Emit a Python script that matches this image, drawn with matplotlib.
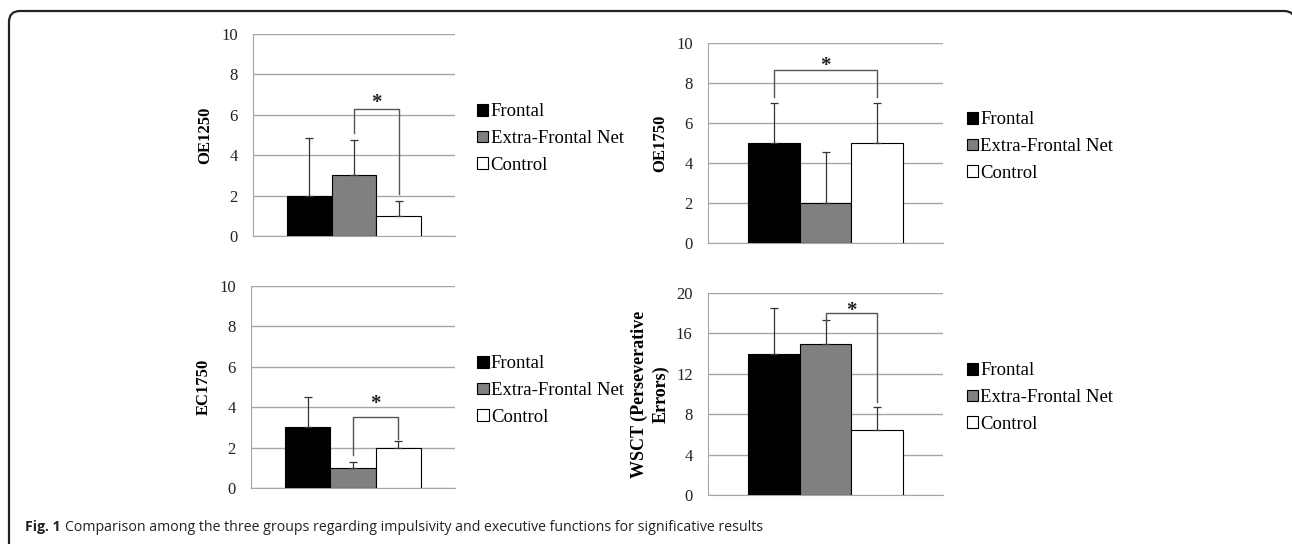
import matplotlib

matplotlib.use("Agg")

import matplotlib.pyplot as plt
from matplotlib.patches import Patch, PathPatch
from matplotlib.path import Path

groups = ["Frontal", "Extra-Frontal Net", "Control"]
bar_colors = ["#000000", "#808080", "#ffffff"]

panel_labels = ["OE1250", "OE1750", "EC1750", "WSCT (Perseverative\nErrors)"]
panel_means = [
    [2.0, 3.0, 1.0],
    [5.0, 2.0, 5.0],
    [3.0, 1.0, 2.0],
    [14.0, 15.0, 6.4],
]
panel_errors = [
    [2.85, 1.75, 0.75],
    [2.0, 2.55, 2.0],
    [1.5, 0.3, 0.35],
    [4.5, 2.3, 2.3],
]
panel_ymax = [10, 10, 10, 20]
panel_ystep = [2, 2, 2, 4]
# bracket: (left bar, right bar, left leg bottom, right leg bottom, top, star y)
panel_brackets = [
    (1, 2, 5.1, 2.1, 6.3, 6.8),
    (0, 2, 7.3, 7.3, 8.65, 9.05),
    (1, 2, 1.65, 2.45, 3.5, 4.35),
    (1, 2, 17.1, 9.2, 18.0, 18.6),
]

caption_bold = "Fig. 1"
caption_text = (
    "Comparison among the three groups regarding impulsivity and "
    "executive functions for significative results"
)

# axes boxes in pixels: left, top, right, bottom
W, H = 1292, 544
axes_px = [
    (253, 34, 455, 236),
    (708, 43, 943, 243),
    (251, 286, 455, 488),
    (708, 293, 943, 495),
]
label_x = [-0.198, -0.17, -0.19, -0.165]
label_size = [12, 12, 12, 13]
legend_x = [1.11, 1.10, 1.11, 1.10]

plt.rcParams["font.family"] = ["Liberation Serif", "DejaVu Serif"]

fig = plt.figure(figsize=(W / 100, H / 100), dpi=100)


def fpt(px, py):
    return (px / W, 1 - py / H)


# rounded frame, only the top and left sides fall inside the picture
r = 11
left, top, right = 9, 11, 1295
verts = [
    fpt(left, H + 20),
    fpt(left, top + r),
    fpt(left, top),
    fpt(left + r, top),
    fpt(right - r, top),
    fpt(right, top),
    fpt(right, top + r),
    fpt(right, H + 20),
]
codes = [
    Path.MOVETO,
    Path.LINETO,
    Path.CURVE3,
    Path.CURVE3,
    Path.LINETO,
    Path.CURVE3,
    Path.CURVE3,
    Path.LINETO,
]
frame = PathPatch(
    Path(verts, codes),
    transform=fig.transFigure,
    fill=False,
    edgecolor="#222222",
    linewidth=1.6,
)
fig.patches.append(frame)

for i in range(4):
    l, t, rr, b = axes_px[i]
    ax = fig.add_axes([l / W, (H - b) / H, (rr - l) / W, (b - t) / H])
    x = list(range(len(groups)))
    ax.bar(
        x,
        panel_means[i],
        width=1.0,
        color=bar_colors,
        edgecolor="#000000",
        linewidth=0.8,
        zorder=3,
    )
    ax.errorbar(
        x,
        panel_means[i],
        yerr=[[0, 0, 0], panel_errors[i]],
        fmt="none",
        ecolor="#333333",
        elinewidth=0.9,
        capsize=3,
        capthick=0.9,
        zorder=4,
    )

    lb, rb, lbot, rbot, btop, star_y = panel_brackets[i]
    ax.plot(
        [x[lb], x[lb], x[rb], x[rb]],
        [lbot, btop, btop, rbot],
        color="#555555",
        linewidth=1.0,
        solid_joinstyle="round",
        zorder=5,
    )
    ax.annotate(
        "*",
        xy=((x[lb] + x[rb]) / 2, star_y),
        xytext=(0, -3),
        textcoords="offset points",
        ha="center",
        va="center",
        fontsize=15,
        fontweight="bold",
        color="#222222",
    )

    ax.set_xlim(-1.26, 3.26)
    ax.set_ylim(0, panel_ymax[i])
    ax.set_yticks(range(0, panel_ymax[i] + 1, panel_ystep[i]))
    ax.set_xticks([])
    ax.yaxis.grid(True, color="#a6a6a6", linewidth=1.0, zorder=0)
    ax.set_axisbelow(True)
    for side in ["top", "right"]:
        ax.spines[side].set_visible(False)
    ax.spines["left"].set_color("#a6a6a6")
    ax.spines["bottom"].set_color("#a6a6a6")
    ax.tick_params(axis="y", length=0, pad=11, labelsize=12, labelcolor="#222222")

    ax.set_ylabel(
        panel_labels[i], fontsize=label_size[i], fontweight="bold", linespacing=1.3
    )
    ax.yaxis.set_label_coords(label_x[i], 0.5)

    handles = [
        Patch(facecolor=c, edgecolor="#000000", linewidth=0.8) for c in bar_colors
    ]
    ax.legend(
        handles,
        groups,
        loc="center left",
        bbox_to_anchor=(legend_x[i], 0.482),
        frameon=False,
        fontsize=13.5,
        handlelength=0.6,
        handleheight=0.6,
        handletextpad=0.12,
        labelspacing=0.52,
        borderpad=0,
        borderaxespad=0,
    )

bold = fig.text(
    25 / W,
    (H - 531) / H,
    caption_bold,
    fontsize=10.2,
    fontweight="bold",
    family=["Open Sans", "DejaVu Sans"],
    va="baseline",
    ha="left",
    color="#222222",
)
renderer = fig.canvas.get_renderer()
bb = bold.get_window_extent(renderer)
fig.text(
    (bb.x1 + 4) / W,
    (H - 531) / H,
    caption_text,
    fontsize=10.2,
    family=["Open Sans", "DejaVu Sans"],
    va="baseline",
    ha="left",
    color="#222222",
)

fig.savefig("out.png", dpi=100)
